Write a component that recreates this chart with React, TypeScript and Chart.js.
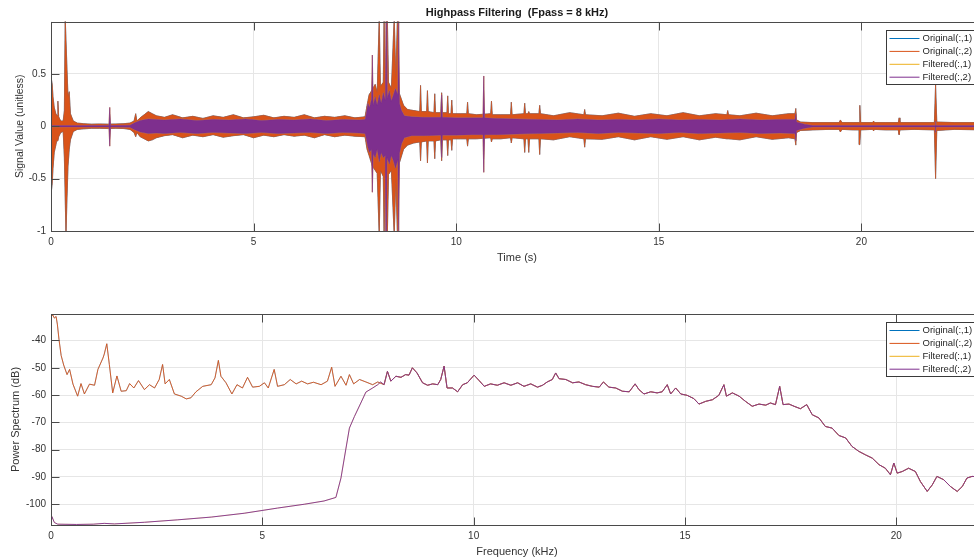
import React, { useEffect, useRef } from 'react';
import { Chart, registerables } from 'chart.js';

Chart.register(...registerables);

const FONT = "'Liberation Sans', Arial, Helvetica, sans-serif";

const chartTitle = 'Highpass Filtering  (Fpass = 8 kHz)';
const seriesLabels = ['Original(:,1)', 'Original(:,2)', 'Filtered(:,1)', 'Filtered(:,2)'];
const seriesColors = ['#0072BD', '#D95319', '#EDB120', '#7E2F8E'];

const timeTicks = [0, 5, 10, 15, 20];
const signalTicks = [-1, -0.5, 0, 0.5];
const freqTicks = [0, 5, 10, 15, 20];
const dbTicks = [-100, -90, -80, -70, -60, -50, -40];

// ---- waveform envelopes (top plot) ----
const origT = [
  0, 0.01, 0.03, 0.05, 0.08, 0.12, 0.15, 0.17, 0.19, 0.24, 0.3, 0.33, 0.35, 0.37, 0.39, 0.42, 0.45, 0.48, 0.55, 0.65,
  0.8, 1.0, 1.2, 1.4, 1.6, 1.8, 1.95, 2.05, 2.09, 2.12, 2.2, 2.3, 2.4, 2.5,
  2.6, 2.8, 3.0, 3.25, 3.5, 3.75, 4.0, 4.25, 4.5, 4.75, 5.0, 5.25, 5.5, 5.75, 6.0, 6.25, 6.5, 6.75, 7.0, 7.25, 7.5, 7.75,
  7.8, 7.85, 7.93, 8.0, 8.05, 8.1, 8.13, 8.2, 8.22, 8.25, 8.3, 8.33, 8.4, 8.47, 8.51, 8.55, 8.59, 8.7,
  8.8, 8.95, 9.1, 9.12, 9.14, 9.27, 9.29, 9.31, 9.45, 9.47, 9.49, 9.62, 9.64, 9.66, 9.77, 9.79, 9.81, 9.87, 9.89, 9.91,
  10.1, 10.26, 10.28, 10.3, 10.5, 10.85, 10.87, 10.89, 11.1, 11.34, 11.36, 11.38, 11.67, 11.69, 11.71, 11.77, 11.79, 11.81, 12.04, 12.06, 12.08,
  12.4, 12.8, 13.15, 13.17, 13.19, 13.6, 14.0, 14.4, 14.8, 15.2, 15.6, 16.0, 16.4, 16.68, 16.7, 16.72, 17.0, 17.4, 17.8, 18.2, 18.36, 18.38, 18.4,
  18.5, 18.8, 19.2, 19.45, 19.48, 19.52, 19.8, 19.94, 19.96, 19.98, 20.28, 20.3, 20.32, 20.6, 20.91, 20.93, 20.95, 21.3, 21.8, 21.83, 21.86, 22.3, 23.0,
];
const origHi = [
  0.1, 0.45, 0.4, 0.28, 0.18, 0.12, 0.1, 0.24, 0.09, 0.05, 0.05, 0.15, 1.05, 1.05, 0.6, 0.28, 0.33, 0.12, 0.05, 0.03,
  0.025, 0.02, 0.022, 0.02, 0.022, 0.025, 0.03, 0.05, 0.12, 0.05, 0.08, 0.11, 0.14, 0.12,
  0.1, 0.085, 0.11, 0.08, 0.095, 0.075, 0.1, 0.085, 0.11, 0.08, 0.09, 0.105, 0.08, 0.095, 0.085, 0.11, 0.08, 0.095, 0.085, 0.1, 0.08, 0.09,
  0.2, 0.3, 0.35, 0.4, 0.32, 1.05, 0.38, 0.42, 1.05, 0.36, 1.05, 0.42, 0.36, 1.05, 0.46, 1.05, 0.32, 0.2,
  0.16, 0.15, 0.14, 0.39, 0.14, 0.14, 0.34, 0.14, 0.13, 0.31, 0.13, 0.13, 0.32, 0.13, 0.13, 0.29, 0.12, 0.12, 0.25, 0.12,
  0.12, 0.12, 0.23, 0.12, 0.11, 0.12, 0.24, 0.11, 0.11, 0.11, 0.23, 0.11, 0.12, 0.22, 0.12, 0.12, 0.14, 0.12, 0.12, 0.2, 0.12,
  0.1, 0.13, 0.11, 0.16, 0.11, 0.1, 0.125, 0.095, 0.12, 0.1, 0.13, 0.1, 0.12, 0.11, 0.15, 0.11, 0.1, 0.125, 0.1, 0.12, 0.12, 0.17, 0.06,
  0.04, 0.035, 0.035, 0.035, 0.06, 0.035, 0.035, 0.035, 0.2, 0.035, 0.035, 0.05, 0.035, 0.035, 0.035, 0.08, 0.035, 0.035, 0.035, 0.4, 0.04, 0.035, 0.035,
];
const origLo = [
  -0.15, -0.62, -0.55, -0.4, -0.25, -0.18, -0.12, -0.14, -0.1, -0.06, -0.05, -0.3, -1.05, -1.05, -0.75, -0.38, -0.22, -0.13, -0.05, -0.03,
  -0.025, -0.02, -0.02, -0.022, -0.02, -0.022, -0.03, -0.06, -0.1, -0.06, -0.1, -0.12, -0.14, -0.13,
  -0.11, -0.09, -0.08, -0.11, -0.085, -0.1, -0.08, -0.105, -0.09, -0.08, -0.11, -0.085, -0.1, -0.08, -0.095, -0.085, -0.11, -0.08, -0.1, -0.085, -0.095, -0.1,
  -0.22, -0.28, -0.38, -0.42, -0.45, -1.05, -0.42, -0.48, -1.05, -0.42, -1.05, -0.46, -0.42, -1.05, -0.5, -1.05, -0.36, -0.22,
  -0.18, -0.16, -0.15, -0.33, -0.15, -0.14, -0.35, -0.14, -0.14, -0.31, -0.14, -0.13, -0.33, -0.13, -0.13, -0.28, -0.13, -0.13, -0.23, -0.12,
  -0.12, -0.12, -0.19, -0.12, -0.12, -0.11, -0.15, -0.12, -0.12, -0.11, -0.16, -0.11, -0.12, -0.25, -0.12, -0.12, -0.25, -0.12, -0.12, -0.27, -0.12,
  -0.13, -0.1, -0.12, -0.2, -0.12, -0.125, -0.1, -0.13, -0.1, -0.125, -0.1, -0.13, -0.105, -0.12, -0.12, -0.12, -0.13, -0.1, -0.125, -0.11, -0.12, -0.18, -0.06,
  -0.04, -0.035, -0.03, -0.03, -0.055, -0.03, -0.035, -0.035, -0.175, -0.035, -0.03, -0.045, -0.03, -0.035, -0.035, -0.08, -0.035, -0.03, -0.035, -0.5, -0.04, -0.03, -0.035,
];

const filtT = [
  0, 1.43, 1.45, 1.47, 1.95, 2.05, 2.2, 2.4,
  2.6, 2.8, 3.2, 3.6, 4.0, 4.4, 4.8, 5.2, 5.6, 6.0, 6.4, 6.8, 7.2, 7.6, 7.75,
  7.78, 7.82, 7.86, 7.91, 7.93, 7.95, 8.0, 8.05, 8.1, 8.15, 8.2, 8.25, 8.27, 8.29, 8.35, 8.4, 8.45, 8.5, 8.56, 8.58, 8.6, 8.65, 8.72,
  8.9, 9.2, 9.62, 9.64, 9.66, 10.0, 10.4, 10.66, 10.68, 10.7, 11.0, 11.5,
  12.0, 12.5, 13.0, 13.5, 14.0, 14.5, 15.0, 15.5, 16.0, 16.5, 17.0, 17.5, 18.0, 18.36, 18.38, 18.4, 18.6, 18.8,
  21.82, 21.83, 21.84, 23.0,
];
const filtHi = [
  0.006, 0.006, 0.18, 0.006, 0.01, 0.03, 0.055, 0.07,
  0.065, 0.06, 0.07, 0.055, 0.065, 0.06, 0.07, 0.055, 0.065, 0.06, 0.07, 0.055, 0.065, 0.06, 0.065,
  0.12, 0.22, 0.18, 0.26, 0.68, 0.2, 0.28, 0.2, 0.3, 0.22, 0.32, 0.25, 1.05, 0.26, 0.34, 0.24, 0.3, 0.36, 0.3, 1.05, 0.22, 0.15, 0.1,
  0.09, 0.085, 0.085, 0.3, 0.085, 0.08, 0.08, 0.08, 0.48, 0.08, 0.075, 0.07,
  0.065, 0.06, 0.07, 0.06, 0.065, 0.06, 0.07, 0.06, 0.065, 0.06, 0.07, 0.06, 0.065, 0.065, 0.12, 0.04, 0.02, 0.006,
  0.006, 0.05, 0.006, 0.006,
];
const filtLo = [
  -0.006, -0.006, -0.19, -0.006, -0.01, -0.03, -0.055, -0.07,
  -0.065, -0.07, -0.06, -0.07, -0.06, -0.065, -0.07, -0.06, -0.07, -0.065, -0.06, -0.07, -0.06, -0.065, -0.07,
  -0.12, -0.2, -0.25, -0.22, -0.63, -0.26, -0.3, -0.22, -0.34, -0.25, -0.3, -0.28, -1.05, -0.3, -0.36, -0.28, -0.33, -0.4, -0.32, -1.05, -0.26, -0.17, -0.11,
  -0.09, -0.09, -0.085, -0.3, -0.085, -0.085, -0.08, -0.08, -0.44, -0.08, -0.08, -0.075,
  -0.07, -0.065, -0.06, -0.07, -0.06, -0.065, -0.07, -0.06, -0.07, -0.065, -0.06, -0.07, -0.065, -0.07, -0.14, -0.04, -0.02, -0.006,
  -0.006, -0.06, -0.006, -0.006,
];

// ---- power spectrum (bottom plot) ----
const origSpecF = [0, 0.04, 0.08, 0.12, 0.15, 0.19, 0.24, 0.3, 0.38, 0.44, 0.52, 0.63, 0.71, 0.79, 0.91, 1.03, 1.11, 1.23, 1.26, 1.32, 1.38, 1.46, 1.56, 1.66, 1.78, 1.86, 1.96, 2.07, 2.21, 2.33, 2.45, 2.56, 2.64, 2.7, 2.8, 2.92, 3.08, 3.2, 3.31, 3.43, 3.59, 3.79, 3.88, 3.96, 4.02, 4.14, 4.28, 4.4, 4.53, 4.65, 4.77, 4.93, 5.05, 5.14, 5.28, 5.36, 5.52, 5.66, 5.8, 5.93, 6.07, 6.21, 6.39, 6.54, 6.64, 6.72, 6.86, 6.98, 7.06, 7.16, 7.3, 7.45, 7.61, 7.73];
const origSpecDb = [-31.5, -30.6, -31.8, -31.2, -34, -39.7, -45.5, -49, -52.5, -50.6, -56, -60.4, -55.8, -59.6, -56, -56.4, -50.6, -46.4, -45, -41.2, -48.8, -59.2, -53, -58.6, -58.4, -55.8, -57.4, -54.7, -58, -56.2, -57.4, -54.3, -48.8, -55.9, -54.3, -59.6, -60.4, -61.4, -61, -58.8, -56.8, -56.2, -53.7, -47.3, -53.1, -55.5, -59.6, -56.2, -57.4, -53.5, -57.1, -56.8, -55.5, -57.4, -50.6, -56.8, -56.2, -54.3, -55.9, -54.9, -55.9, -55.3, -56.2, -54.9, -49.8, -56.8, -53.1, -56.4, -52.5, -55.9, -54.3, -55.2, -56.2, -55.2];

const filtSpecF = [0, 0.02, 0.08, 0.16, 0.6, 1.0, 1.26, 1.5, 2.21, 3.0, 3.79, 4.57, 5.36, 5.99, 6.46, 6.74, 6.86, 6.98, 7.06, 7.18, 7.33, 7.45, 7.61, 7.73, 7.8];
const filtSpecDb = [-105.4, -104.5, -106.7, -107.3, -107.4, -107.3, -107, -107.2, -106.6, -105.7, -104.7, -103.3, -101.4, -100, -98.8, -97.5, -90.4, -79.4, -72.1, -67.8, -62.9, -58.9, -57.4, -56.2, -55.2];

const passSpecF = [7.88, 7.96, 8.04, 8.16, 8.28, 8.39, 8.47, 8.55, 8.66, 8.79, 8.91, 9.03, 9.15, 9.22, 9.3, 9.37, 9.5, 9.62, 9.74, 9.85, 10.01, 10.13, 10.25, 10.4, 10.56, 10.72, 10.88, 11.04, 11.19, 11.35, 11.51, 11.63, 11.74, 11.86, 11.94, 12.02, 12.18, 12.34, 12.49, 12.65, 12.81, 12.97, 13.07, 13.2, 13.36, 13.52, 13.68, 13.82, 13.91, 14.03, 14.19, 14.34, 14.46, 14.58, 14.66, 14.78, 14.9, 15.05, 15.21, 15.33, 15.49, 15.65, 15.8, 15.92, 15.98, 16.12, 16.28, 16.43, 16.59, 16.75, 16.91, 17.02, 17.14, 17.24, 17.32, 17.46, 17.58, 17.73, 17.88, 18.01, 18.17, 18.32, 18.48, 18.64, 18.8, 18.95, 19.11, 19.27, 19.43, 19.59, 19.74, 19.86, 19.94, 20.02, 20.14, 20.29, 20.45, 20.57, 20.73, 20.85, 20.96, 21.12, 21.28, 21.44, 21.56, 21.67, 21.79, 22.05];
const passSpecDb = [-56.2, -51.3, -54.9, -53.1, -53.5, -52.5, -52.7, -50, -51.9, -55.5, -56.4, -55.9, -56.2, -54.3, -49.4, -57.4, -57.4, -58.8, -56.2, -55.5, -52.7, -54.7, -56.8, -55.9, -56.4, -55.5, -56.4, -55.5, -56.8, -55.9, -57.1, -56.4, -55.2, -54.3, -51.9, -54, -54.3, -55.5, -55.2, -56.2, -56.8, -57.1, -55.2, -57.1, -57.4, -58.6, -58.8, -55.9, -58, -59.6, -58.8, -59.2, -58.8, -56.2, -59.6, -57.4, -59.6, -60.1, -61.3, -63.3, -62.3, -61.7, -60.1, -56.2, -60.4, -59.2, -60.4, -62.3, -64.1, -63.3, -63.7, -62.9, -63.5, -56.8, -63.5, -63.3, -64.1, -65, -63.5, -67.2, -68.4, -71.5, -72.1, -74.8, -75.7, -78.8, -80.6, -81.9, -83.1, -85.5, -86.8, -89.2, -84.9, -88.6, -88, -86.8, -88, -91.7, -95.3, -92.9, -89.8, -91, -93.5, -95.3, -93.5, -90.4, -89.8, -90];

const timeRange = [0, 23];
const signalRange = [-1, 1];
const freqRange = [0, 22.05];
const dbRange = [-107.6, -30.3];

function bandShape(t: number[], hi: number[], lo: number[]) {
  const pts = t.map((x, i) => ({ x, y: hi[i] }));
  for (let i = t.length - 1; i >= 0; i--) pts.push({ x: t[i], y: lo[i] });
  return pts;
}
function curve(f: number[], db: number[]) {
  return f.map((x, i) => ({ x, y: db[i] }));
}

const axesBoxPlugin = {
  id: 'axesBox',
  afterDatasetsDraw(chart: any) {
    const { ctx, chartArea: a, scales } = chart;
    const L = Math.round(a.left) + 0.5, R = Math.round(a.right) + 0.5;
    const T = Math.round(a.top) + 0.5, B = Math.round(a.bottom) + 0.5;
    ctx.save();
    ctx.strokeStyle = '#4a4a4a';
    ctx.lineWidth = 1;
    ctx.strokeRect(L, T, R - L, B - T);
    ctx.beginPath();
    scales.x.ticks.forEach((t: any) => {
      const px = Math.round(scales.x.getPixelForValue(t.value)) + 0.5;
      ctx.moveTo(px, B); ctx.lineTo(px, B - 8);
      ctx.moveTo(px, T); ctx.lineTo(px, T + 8);
    });
    scales.y.ticks.forEach((t: any) => {
      const py = Math.round(scales.y.getPixelForValue(t.value)) + 0.5;
      ctx.moveTo(L, py); ctx.lineTo(L + 8, py);
      ctx.moveTo(R, py); ctx.lineTo(R - 8, py);
    });
    ctx.stroke();
    ctx.restore();
  },
};

const boxLegendPlugin = {
  id: 'boxLegend',
  afterDraw(chart: any) {
    const { ctx, chartArea: a } = chart;
    const left = Math.round(a.right - 97) + 0.5;
    const top = Math.round(a.top + 8) + 0.5;
    const w = 94, h = 54, rowH = 12.9;
    ctx.save();
    ctx.fillStyle = '#ffffff';
    ctx.fillRect(left, top, w, h);
    ctx.strokeStyle = '#3a3a3a';
    ctx.lineWidth = 1;
    ctx.strokeRect(left, top, w, h);
    ctx.font = `9.5px ${FONT}`;
    ctx.textBaseline = 'middle';
    ctx.textAlign = 'left';
    seriesLabels.forEach((lab, i) => {
      const y = top + 8 + i * rowH;
      ctx.strokeStyle = seriesColors[i];
      ctx.beginPath();
      ctx.moveTo(left + 3, y);
      ctx.lineTo(left + 33, y);
      ctx.stroke();
      ctx.fillStyle = '#262626';
      ctx.fillText(lab, left + 36, y);
    });
    ctx.restore();
  },
};

function titlePlugin(text: string, y: number) {
  return {
    id: 'axTitle',
    afterDraw(chart: any) {
      const { ctx, chartArea: a } = chart;
      ctx.save();
      ctx.font = `bold 11px ${FONT}`;
      ctx.fillStyle = '#1a1a1a';
      ctx.textAlign = 'center';
      ctx.textBaseline = 'middle';
      ctx.fillText(text, (a.left + a.right) / 2, y);
      ctx.restore();
    },
  };
}

function makeScales(opts: {
  xRange: number[]; xTicks: number[]; xTitle: string; xHeight: number; xTickPad: number; xTitlePad: number;
  yRange: number[]; yTicks: number[]; yTitle: string; yTitlePad: number; yTitleSize: number;
}) {
  const tickFont = { family: FONT, size: 10 };
  return {
    x: {
      type: 'linear',
      min: opts.xRange[0],
      max: opts.xRange[1],
      afterBuildTicks: (s: any) => { s.ticks = opts.xTicks.map((v) => ({ value: v })); },
      afterFit: (s: any) => { s.height = opts.xHeight; },
      ticks: { font: tickFont, color: '#333', padding: opts.xTickPad, maxRotation: 0, autoSkip: false, callback: (v: any) => String(v) },
      grid: { color: '#e6e6e6', drawTicks: false, lineWidth: 1 },
      border: { display: false },
      title: { display: true, text: opts.xTitle, font: { family: FONT, size: 11 }, color: '#333', padding: { top: 0, bottom: opts.xTitlePad } },
    },
    y: {
      type: 'linear',
      min: opts.yRange[0],
      max: opts.yRange[1],
      afterBuildTicks: (s: any) => { s.ticks = opts.yTicks.map((v) => ({ value: v })); },
      afterFit: (s: any) => { s.width = 51; },
      ticks: { font: tickFont, color: '#333', padding: 5, autoSkip: false, callback: (v: any) => String(v) },
      grid: { color: '#e6e6e6', drawTicks: false, lineWidth: 1 },
      border: { display: false },
      title: { display: true, text: opts.yTitle, font: { family: FONT, size: opts.yTitleSize }, color: '#333', padding: { top: opts.yTitlePad, bottom: 0 } },
    },
  };
}

export default function App() {
  const topRef = useRef<HTMLCanvasElement>(null);
  const botRef = useRef<HTMLCanvasElement>(null);

  useEffect(() => {
    const origBand = bandShape(origT, origHi, origLo);
    const filtBand = bandShape(filtT, filtHi, filtLo);
    const bandDs = (i: number, data: any[], order: number) => ({
      label: seriesLabels[i],
      data,
      borderColor: seriesColors[i],
      backgroundColor: seriesColors[i],
      borderWidth: 0.6,
      fill: 'shape',
      pointRadius: 0,
      tension: 0,
      order,
    });
    const top = new Chart(topRef.current as HTMLCanvasElement, {
      type: 'line',
      data: {
        datasets: [
          bandDs(0, origBand, 4),
          bandDs(1, origBand, 3),
          bandDs(2, filtBand, 2),
          bandDs(3, filtBand, 1),
        ],
      },
      options: {
        responsive: false,
        animation: false,
        devicePixelRatio: 1,
        events: [],
        layout: { padding: { top: 21.5, right: 7, bottom: 0, left: 0 } },
        plugins: { legend: { display: false }, tooltip: { enabled: false } },
        scales: makeScales({
          xRange: timeRange, xTicks: timeTicks, xTitle: 'Time (s)', xHeight: 49, xTickPad: 5, xTitlePad: 15,
          yRange: signalRange, yTicks: signalTicks, yTitle: 'Signal Value (unitless)', yTitlePad: 13.5, yTitleSize: 10.5,
        }),
      } as any,
      plugins: [axesBoxPlugin, boxLegendPlugin, titlePlugin(chartTitle, 13)],
    });

    const origCurve = curve(origSpecF.concat(passSpecF), origSpecDb.concat(passSpecDb));
    const filtCurve = curve(filtSpecF.concat(passSpecF), filtSpecDb.concat(passSpecDb));
    const lineDs = (i: number, data: any[], order: number, width: number) => ({
      label: seriesLabels[i],
      data,
      borderColor: seriesColors[i],
      borderWidth: width,
      fill: false,
      pointRadius: 0,
      tension: 0,
      order,
    });
    const bot = new Chart(botRef.current as HTMLCanvasElement, {
      type: 'line',
      data: {
        datasets: [
          lineDs(0, origCurve, 4, 0.4),
          lineDs(1, origCurve, 3, 0.9),
          lineDs(2, filtCurve, 2, 0.4),
          lineDs(3, filtCurve, 1, 0.9),
        ],
      },
      options: {
        responsive: false,
        animation: false,
        devicePixelRatio: 1,
        events: [],
        layout: { padding: { top: 34, right: 7, bottom: 0, left: 0 } },
        plugins: { legend: { display: false }, tooltip: { enabled: false } },
        scales: makeScales({
          xRange: freqRange, xTicks: freqTicks, xTitle: 'Frequency (kHz)', xHeight: 35, xTickPad: 5.5, xTitlePad: 1.7,
          yRange: dbRange, yTicks: dbTicks, yTitle: 'Power Spectrum (dB)', yTitlePad: 9.5, yTitleSize: 11,
        }),
      } as any,
      plugins: [axesBoxPlugin, boxLegendPlugin],
    });

    return () => { top.destroy(); bot.destroy(); };
  }, []);

  return (
    <div style={{ position: 'fixed', left: 0, top: 0, width: 974, height: 560, overflow: 'hidden', background: '#fff' }}>
      <canvas ref={topRef} width={990} height={280} style={{ display: 'block', position: 'absolute', left: 0, top: 0 }} />
      <canvas ref={botRef} width={990} height={280} style={{ display: 'block', position: 'absolute', left: 0, top: 280 }} />
    </div>
  );
}
